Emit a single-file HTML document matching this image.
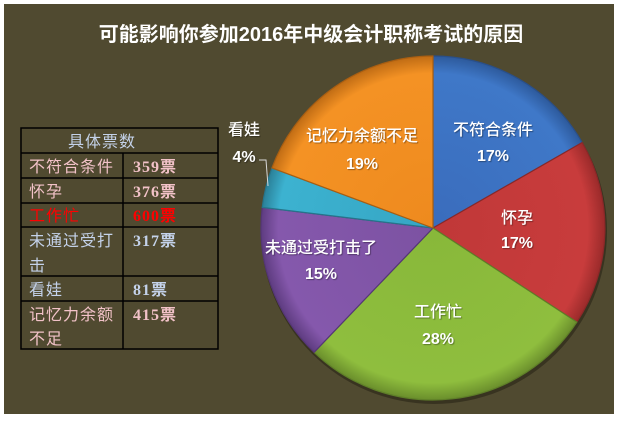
<!DOCTYPE html>
<html><head><meta charset="utf-8"><style>
html,body{margin:0;padding:0;background:#fff;}
svg{display:block;}
</style></head><body>
<svg width="619" height="421" viewBox="0 0 619 421" xmlns="http://www.w3.org/2000/svg">
<defs>
<radialGradient id="gb" cx="433" cy="228" r="172" gradientUnits="userSpaceOnUse"><stop offset="0" stop-color="#3a6cbc"/><stop offset="0.9" stop-color="#3f78c8"/><stop offset="1" stop-color="#2d5a9c"/></radialGradient>
<radialGradient id="gr" cx="433" cy="228" r="172" gradientUnits="userSpaceOnUse"><stop offset="0" stop-color="#c03838"/><stop offset="0.9" stop-color="#c83c3c"/><stop offset="1" stop-color="#9a2a2a"/></radialGradient>
<radialGradient id="gg" cx="433" cy="228" r="172" gradientUnits="userSpaceOnUse"><stop offset="0" stop-color="#88b83a"/><stop offset="0.9" stop-color="#8fbe3e"/><stop offset="1" stop-color="#6a8e2c"/></radialGradient>
<radialGradient id="gp" cx="433" cy="228" r="172" gradientUnits="userSpaceOnUse"><stop offset="0" stop-color="#7c52a2"/><stop offset="0.9" stop-color="#8558ac"/><stop offset="1" stop-color="#5e3c80"/></radialGradient>
<radialGradient id="gc" cx="433" cy="228" r="172" gradientUnits="userSpaceOnUse"><stop offset="0" stop-color="#36a6c4"/><stop offset="0.9" stop-color="#3cb2d0"/><stop offset="1" stop-color="#2a8098"/></radialGradient>
<radialGradient id="go" cx="433" cy="228" r="172" gradientUnits="userSpaceOnUse"><stop offset="0" stop-color="#ee8a1e"/><stop offset="0.9" stop-color="#f49224"/><stop offset="1" stop-color="#c06c14"/></radialGradient>
</defs>
<rect x="0" y="0" width="619" height="421" fill="#ffffff"/>
<rect x="4" y="4" width="610" height="410" fill="#504a30"/>
<text x="311" y="41" text-anchor="middle" font-family="Liberation Sans, Noto Sans CJK SC, sans-serif" font-size="20" font-weight="bold" fill="#ffffff">可能影响你参加2016年中级会计职称考试的原因</text>

<circle cx="434" cy="231" r="173" fill="#2e2a1a" opacity="0.7"/>
<g stroke-linejoin="round">
<path d="M433,228 L433,56 A172,172 0 0 1 582.2,142.5 Z" fill="url(#gb)" stroke="#2a4f88" stroke-width="1.2"/>
<path d="M433,228 L582.2,142.5 A172,172 0 0 1 576.9,322.1 Z" fill="url(#gr)" stroke="#8a2828" stroke-width="1.2"/>
<path d="M433,228 L576.9,322.1 A172,172 0 0 1 314.1,352.3 Z" fill="url(#gg)" stroke="#5e7e28" stroke-width="1.2"/>
<path d="M433,228 L314.1,352.3 A172,172 0 0 1 262.2,207.4 Z" fill="url(#gp)" stroke="#553676" stroke-width="1.2"/>
<path d="M433,228 L262.2,207.4 A172,172 0 0 1 271.9,167.9 Z" fill="url(#gc)" stroke="#26748a" stroke-width="1.2"/>
<path d="M433,228 L271.9,167.9 A172,172 0 0 1 433,56 Z" fill="url(#go)" stroke="#a85e12" stroke-width="1.2"/>
</g>

<polyline points="259,160 266,160 268,186" fill="none" stroke="#d8d8d8" stroke-width="1"/>

<g font-family="Liberation Sans, Noto Sans CJK SC, sans-serif" fill="#ffffff" text-anchor="middle" style="text-shadow:1px 1px 1px rgba(0,0,0,0.35)">
<g font-weight="500" font-size="16">
<text x="493" y="135">不符合条件</text>
<text x="517" y="223">怀孕</text>
<text x="362" y="141">记忆力余额不足</text>
<text x="321" y="253">未通过受打击了</text>
<text x="438" y="317">工作忙</text>
<text x="244" y="135">看娃</text>
</g>
<g font-weight="bold" font-size="16">
<text x="493" y="161">17%</text>
<text x="517" y="248">17%</text>
<text x="362" y="169">19%</text>
<text x="321" y="279">15%</text>
<text x="438" y="344">28%</text>
<text x="244" y="162">4%</text>
</g>
</g>

<g stroke="#000000" stroke-width="1.5" fill="none">
<rect x="21" y="128" width="197" height="221"/>
<line x1="21" y1="153" x2="218" y2="153"/>
<line x1="21" y1="178" x2="218" y2="178"/>
<line x1="21" y1="203" x2="218" y2="203"/>
<line x1="21" y1="227" x2="218" y2="227"/>
<line x1="21" y1="276" x2="218" y2="276"/>
<line x1="21" y1="301" x2="218" y2="301"/>
<line x1="123" y1="153" x2="123" y2="349"/>
</g>
<g font-family="Liberation Serif, Noto Sans CJK SC, serif" font-size="16" letter-spacing="1">
<text x="68" y="147" fill="#c4d2ea">具体票数</text>
<text x="29" y="172" fill="#f2c2c8">不符合条件</text>
<text x="133" y="172" fill="#f2c2c8" font-weight="bold">359票</text>
<text x="29" y="197" fill="#f2c2c8">怀孕</text>
<text x="133" y="197" fill="#f2c2c8" font-weight="bold">376票</text>
<text x="29" y="221" fill="#ff0000">工作忙</text>
<text x="133" y="221" fill="#ff0000" font-weight="bold">600票</text>
<text x="29" y="246" fill="#c4d2ea">未通过受打</text>
<text x="29" y="271" fill="#c4d2ea">击</text>
<text x="133" y="246" fill="#c4d2ea" font-weight="bold">317票</text>
<text x="29" y="295" fill="#c4d2ea">看娃</text>
<text x="133" y="295" fill="#c4d2ea" font-weight="bold">81票</text>
<text x="29" y="320" fill="#f2c2c8">记忆力余额</text>
<text x="29" y="344" fill="#f2c2c8">不足</text>
<text x="133" y="320" fill="#f2c2c8" font-weight="bold">415票</text>
</g>
</svg>
</body></html>
